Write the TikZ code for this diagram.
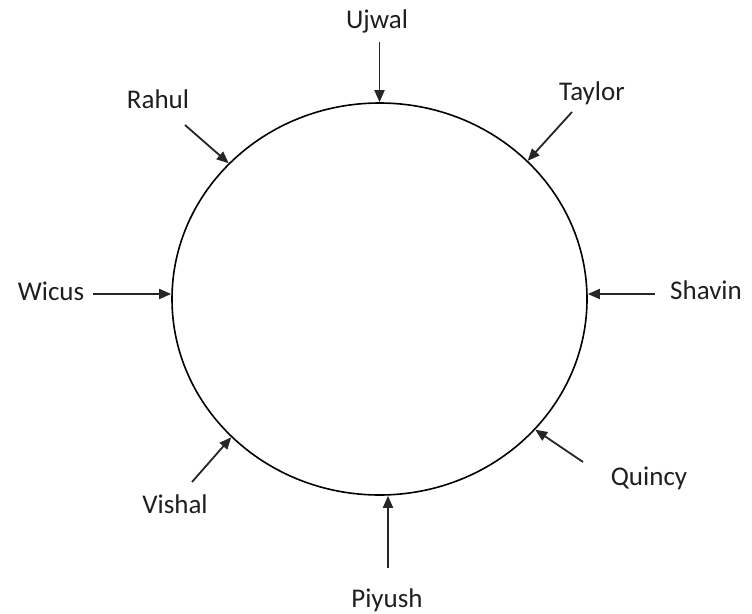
\documentclass[tikz,border=0pt]{standalone}
\usepackage{fontspec}
\setmainfont{Carlito}
\usetikzlibrary{shapes.geometric,arrows.meta}
\begin{document}
\begin{tikzpicture}[x=1pt,y=-1pt,
  lbl/.style={font=\fontsize{27}{32}\selectfont, text=black!88, inner sep=0pt, anchor=base},
  arr/.style={-{Triangle[length=12pt,width=10pt]}, line width=1.8pt, black!85},
  ring/.style={draw, ellipse, line width=1.6pt, minimum width=415pt, minimum height=392pt, inner sep=0pt}]
\useasboundingbox (0,0) rectangle (752,613);
\node[ring] (circ) at (379.5,299) {};
% labels
\node[lbl] (ujwal) at (377,28) {Ujwal};
\node[lbl] (taylor) at (592,100) {Taylor};
\node[lbl] (rahul) at (158,108) {Rahul};
\node[lbl] (wicus) at (51,300) {Wicus};
\node[lbl] (shavin) at (706,299) {Shavin};
\node[lbl] (quincy) at (649,485) {Quincy};
\node[lbl] (vishal) at (175,513) {Vishal};
\node[lbl] (piyush) at (387,607) {Piyush};
% arrow tails
\coordinate (tU) at (379.5,42);
\coordinate (tT) at (572,112);
\coordinate (tR) at (185,125);
\coordinate (tW) at (93,294);
\coordinate (tS) at (655,294);
\coordinate (tQ) at (583,462);
\coordinate (tV) at (192,482);
\coordinate (tP) at (388,568);
% arrows
\draw[arr] (tU) -- (circ.north);
\draw[arr] (tT) -- (circ.43.7);
\draw[arr] (tR) -- (circ.138.1);
\draw[arr] (tW) -- (tW -| circ.west);
\draw[arr] (tS) -- (tS -| circ.east);
\draw[arr] (tQ) -- (circ.320.7);
\draw[arr] (tV) -- (circ.223.9);
\draw[arr] (tP) -- (tP |- circ.south);
\end{tikzpicture}
\end{document}
